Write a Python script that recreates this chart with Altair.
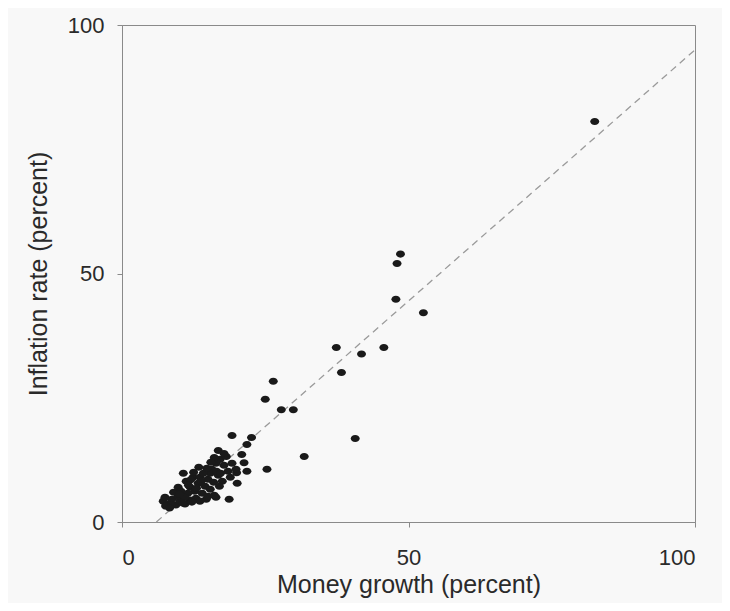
import altair as alt
import pandas as pd

# Money growth (x, percent) and inflation rate (y, percent) per country
money_growth = [
    82.5, 48.6, 48.0, 47.8, 52.6, 37.4, 41.8, 45.7, 38.3, 40.7,
    26.4, 25.0, 27.8, 29.9, 22.6, 19.2, 31.8, 25.3,
    16.8, 20.9, 20.1, 18.7, 21.8, 21.8, 21.3, 20.0, 16.4,
    7.2, 8.0, 8.7, 9.4, 7.5, 10.1, 11.0, 9.8, 11.9,
    10.7, 11.2, 11.9, 12.7, 13.3, 12.4, 13.6, 14.5, 14.0, 15.0,
    15.4, 11.5, 12.9, 16.1, 14.7, 13.6,
    15.7, 16.4, 17.1, 17.8, 18.5, 16.8, 17.5, 18.9, 16.1, 18.2,
    19.2, 15.4, 19.9,
    9.0, 9.8, 10.3, 11.0, 12.0, 12.5, 13.0, 13.8, 14.2, 14.8,
    15.5, 16.0, 16.5, 17.2, 17.8, 12.2, 10.6, 8.6, 15.0, 17.0,
    7.6, 8.3, 10.0, 11.6, 13.4,
]
inflation = [
    80.6, 53.9, 52.0, 44.8, 42.1, 35.1, 33.8, 35.1, 30.1, 16.8,
    28.3, 24.7, 22.6, 22.6, 17.0, 17.4, 13.2, 10.6,
    14.4, 13.6, 7.8, 4.6, 10.2, 15.6, 11.9, 9.9, 5.0,
    4.2, 3.6, 4.6, 3.4, 5.0, 4.2, 3.6, 5.2, 4.4,
    9.8, 8.2, 7.0, 6.2, 7.8, 9.0, 9.0, 7.2, 5.8, 8.6,
    6.6, 5.8, 4.8, 5.4, 4.6, 4.2,
    10.6, 11.8, 12.6, 11.4, 10.2, 9.4, 8.2, 9.0, 13.0, 13.2,
    11.8, 9.8, 10.6,
    6.0, 7.0, 6.2, 5.0, 8.5, 10.0, 6.8, 8.2, 9.8, 10.8,
    12.0, 8.0, 10.2, 9.8, 13.8, 4.0, 3.8, 3.4, 5.2, 7.2,
    3.2, 2.8, 5.6, 7.4, 11.0,
]

# Reference line endpoints (data units)
line_x = [6, 100]
line_y = [0, 95]

pts = pd.DataFrame({"money": money_growth, "infl": inflation})
ref = pd.DataFrame({"money": line_x, "infl": line_y})

font = "Liberation Sans"
text_color = "#2a2a2a"
ellipse = "M-1,0A1,0.78,0,1,0,1,0A1,0.78,0,1,0,-1,0Z"

x_enc = alt.X(
    "money:Q",
    scale=alt.Scale(domain=[0, 100], nice=False, zero=False),
    axis=alt.Axis(
        values=[0, 50, 100],
        title="Money growth (percent)",
        grid=False,
        tickSize=5,
        labelPadding=20,
        titlePadding=4,
    ),
)
y_enc = alt.Y(
    "infl:Q",
    scale=alt.Scale(domain=[0, 100], nice=False, zero=False),
    axis=alt.Axis(
        values=[0, 50, 100],
        title="Inflation rate (percent)",
        grid=False,
        tickSize=5,
        labelPadding=13,
        titlePadding=16,
    ),
)

line = alt.Chart(ref).mark_line(
    color="#9a9a9a", strokeDash=[7, 5], strokeWidth=1.3
).encode(x=x_enc, y=y_enc)

dots = alt.Chart(pts).mark_point(
    filled=True, shape=ellipse, size=81, color="#1a1a1a", opacity=1
).encode(x="money:Q", y="infl:Q")

chart = (
    alt.layer(line, dots)
    .properties(
        width=573,
        height=497,
        autosize=alt.AutoSizeParams(type="none"),
        padding={"left": 114, "top": 17, "right": 27, "bottom": 81},
        background="#f8f8f8",
    )
    .configure_view(stroke="#8a8a8a", strokeWidth=1)
    .configure_axis(
        labelFont=font,
        titleFont=font,
        labelFontSize=22,
        titleFontSize=25,
        titleFontWeight="normal",
        labelColor=text_color,
        titleColor=text_color,
        domainColor="#8a8a8a",
        tickColor="#8a8a8a",
    )
)

chart.save("out.html", embed_options={"renderer": "svg", "actions": False})
